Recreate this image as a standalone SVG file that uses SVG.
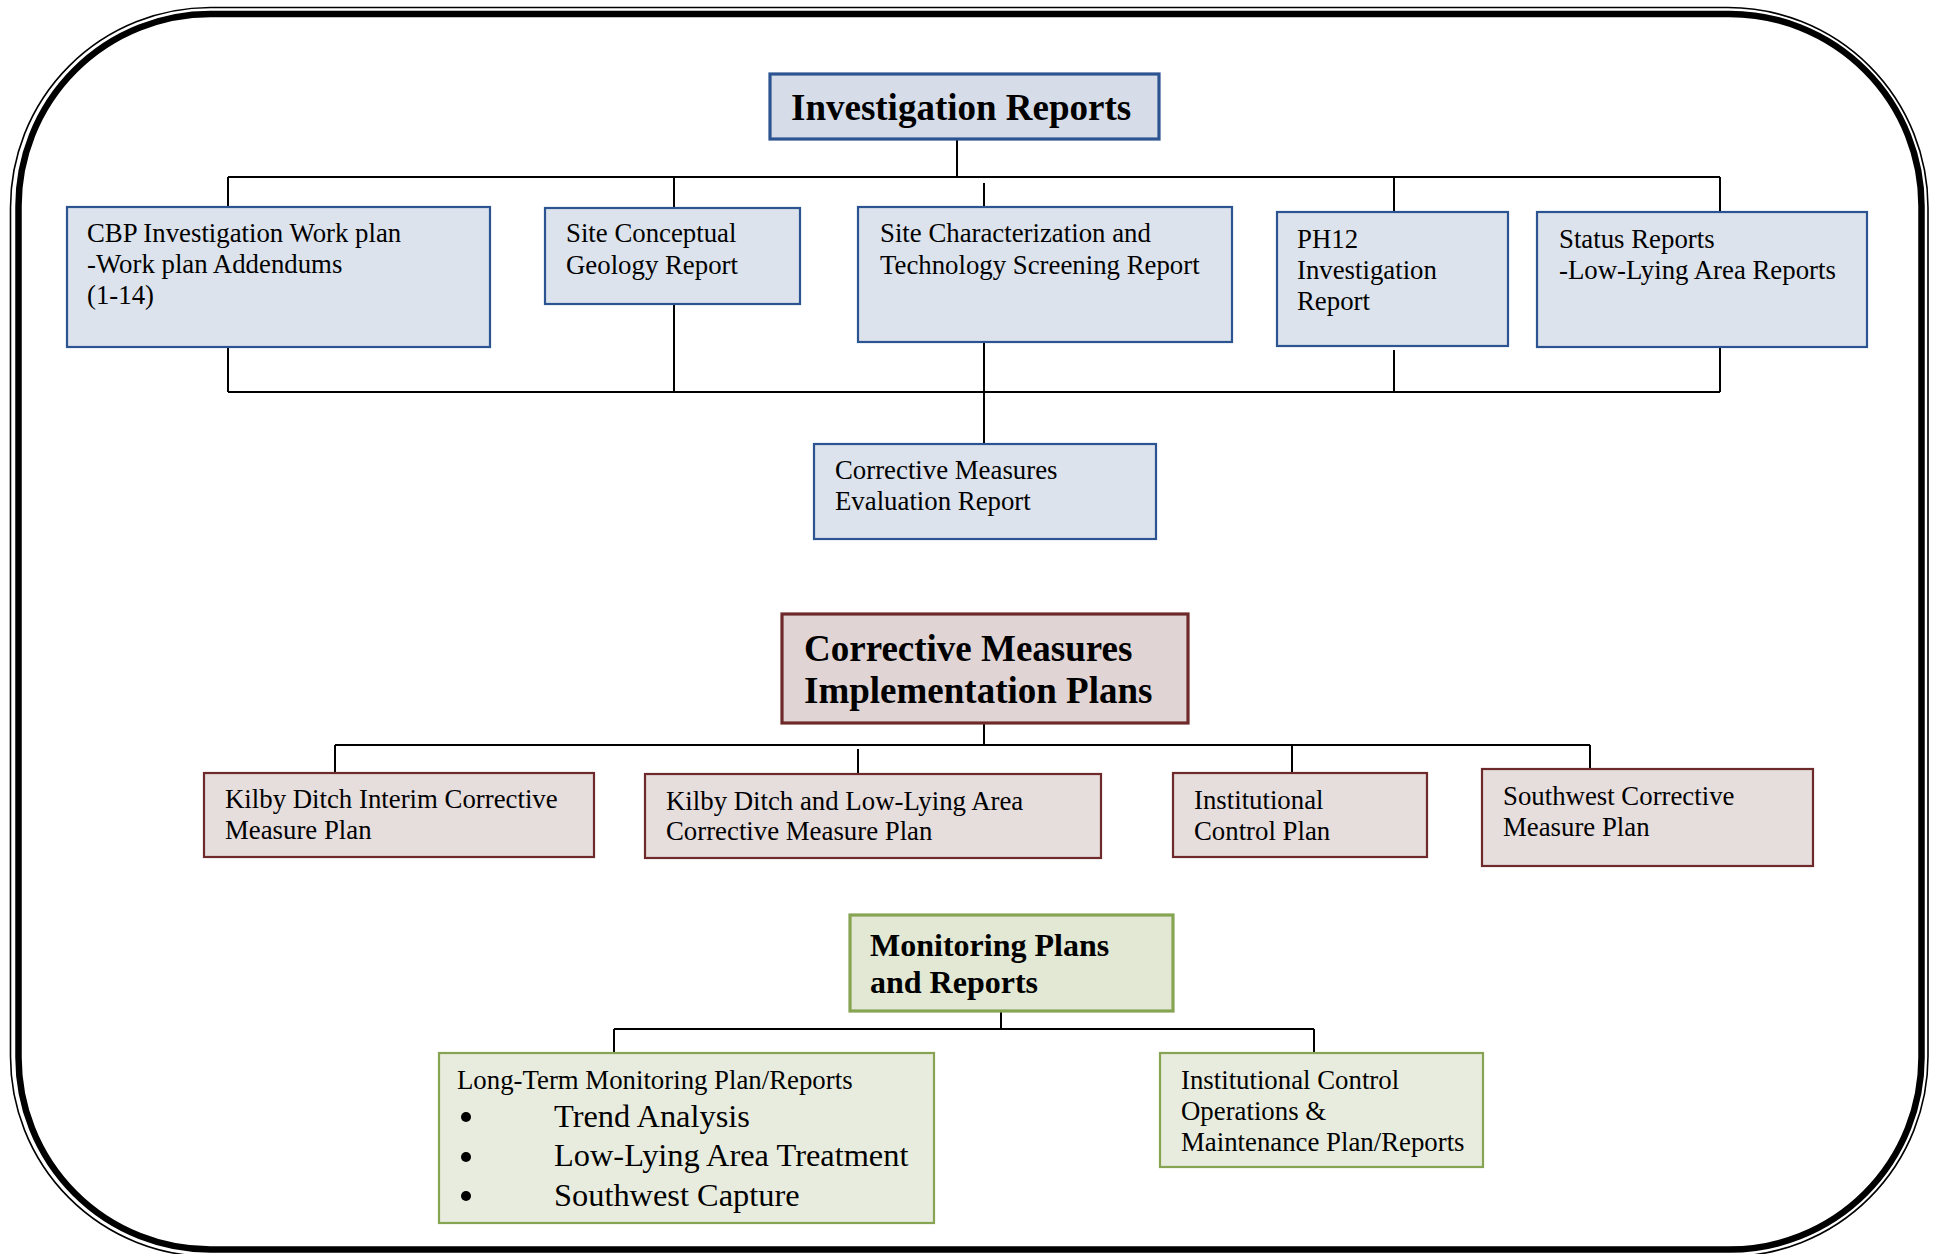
<svg xmlns="http://www.w3.org/2000/svg" width="1938" height="1254" viewBox="0 0 1938 1254">
<style>
text{font-family:"Liberation Serif","Times New Roman",serif;fill:#000}
.t{font-size:26.8px}
.h{font-size:37px;font-weight:bold}
.h2{font-size:32px;font-weight:bold}
.b{font-size:32.4px}
.blue{fill:#dce3ec;stroke:#2c5491;stroke-width:2.2}
.blueT{fill:#d6dde8;stroke:#2c5491;stroke-width:3.2}
.red{fill:#e6dddd;stroke:#6e2a2a;stroke-width:2.2}
.redT{fill:#e0d4d4;stroke:#6e2a2a;stroke-width:3.2}
.green{fill:#e8ecde;stroke:#86a452;stroke-width:2.2}
.greenT{fill:#e2e8d4;stroke:#86a452;stroke-width:3.2}
.c{fill:none;stroke:#000;stroke-width:2}
</style>
<rect x="0" y="0" width="1938" height="1254" fill="#fff"/>
<g id="frame" fill="none" stroke="#000">
<rect x="10.5" y="7.5" width="1917.5" height="1249" rx="200" ry="200" stroke-width="1.6"/>
<rect x="18.5" y="14" width="1903" height="1235.5" rx="192" ry="192" stroke-width="6.5"/>
</g>
<g id="connectors" class="c">
<path d="M957,139 V177 M228,177 H1720 M228,177 V207 M674,177 V208 M984,183 V207 M1394,177 V212 M1720,177 V212"/>
<path d="M228,347 V392 M674,304 V392 M984,342 V444 M1394,350 V392 M1720,347 V392 M228,392 H1720"/>
<path d="M984,723 V745 M335,745 H1590 M335,745 V772 M858,749 V773 M1292,745 V772 M1590,745 V768"/>
<path d="M1001,1011 V1029 M614,1029 H1314 M614,1029 V1053 M1314,1029 V1053"/>
</g>
<g id="investigation-reports">
<rect class="blueT" x="770" y="74" width="389" height="65"/>
<text class="h" x="791" y="120">Investigation Reports</text>
</g>
<g id="cbp-workplan">
<rect class="blue" x="67" y="207" width="423" height="140"/>
<text class="t" x="87" y="242">CBP Investigation Work plan</text>
<text class="t" x="87" y="273">-Work plan Addendums</text>
<text class="t" x="87" y="304">(1-14)</text>
</g>
<g id="site-conceptual">
<rect class="blue" x="545" y="208" width="255" height="96"/>
<text class="t" x="566" y="242">Site Conceptual</text>
<text class="t" x="566" y="274">Geology Report</text>
</g>
<g id="site-characterization">
<rect class="blue" x="858" y="207" width="374" height="135"/>
<text class="t" x="880" y="242">Site Characterization and</text>
<text class="t" x="880" y="274">Technology Screening Report</text>
</g>
<g id="ph12">
<rect class="blue" x="1277" y="212" width="231" height="134"/>
<text class="t" x="1297" y="248">PH12</text>
<text class="t" x="1297" y="279">Investigation</text>
<text class="t" x="1297" y="310">Report</text>
</g>
<g id="status-reports">
<rect class="blue" x="1537" y="212" width="330" height="135"/>
<text class="t" x="1559" y="248">Status Reports</text>
<text class="t" x="1559" y="279">-Low-Lying Area Reports</text>
</g>
<g id="cme-report">
<rect class="blue" x="814" y="444" width="342" height="95"/>
<text class="t" x="835" y="479">Corrective Measures</text>
<text class="t" x="835" y="510">Evaluation Report</text>
</g>
<g id="cmip">
<rect class="redT" x="782" y="614" width="406" height="109"/>
<text class="h" x="804" y="661">Corrective Measures</text>
<text class="h" x="804" y="703">Implementation Plans</text>
</g>
<g id="kilby-interim">
<rect class="red" x="204" y="773" width="390" height="84"/>
<text class="t" x="225" y="808">Kilby Ditch Interim Corrective</text>
<text class="t" x="225" y="839">Measure Plan</text>
</g>
<g id="kilby-lla">
<rect class="red" x="645" y="774" width="456" height="84"/>
<text class="t" x="666" y="810">Kilby Ditch and Low-Lying Area</text>
<text class="t" x="666" y="840">Corrective Measure Plan</text>
</g>
<g id="icp">
<rect class="red" x="1173" y="773" width="254" height="84"/>
<text class="t" x="1194" y="809">Institutional</text>
<text class="t" x="1194" y="840">Control Plan</text>
</g>
<g id="southwest">
<rect class="red" x="1482" y="769" width="331" height="97"/>
<text class="t" x="1503" y="805">Southwest Corrective</text>
<text class="t" x="1503" y="836">Measure Plan</text>
</g>
<g id="monitoring">
<rect class="greenT" x="850" y="915" width="323" height="96"/>
<text class="h2" x="870" y="956">Monitoring Plans</text>
<text class="h2" x="870" y="993">and Reports</text>
</g>
<g id="ltm">
<rect class="green" x="439" y="1053" width="495" height="170"/>
<text class="t" x="457" y="1089">Long-Term Monitoring Plan/Reports</text>
<circle cx="466" cy="1117" r="5"/>
<circle cx="466" cy="1157" r="5"/>
<circle cx="466" cy="1196" r="5"/>
<text class="b" x="554" y="1127">Trend Analysis</text>
<text class="b" x="554" y="1166">Low-Lying Area Treatment</text>
<text class="b" x="554" y="1206">Southwest Capture</text>
</g>
<g id="ic-om">
<rect class="green" x="1160" y="1053" width="323" height="114"/>
<text class="t" x="1181" y="1089">Institutional Control</text>
<text class="t" x="1181" y="1120">Operations &amp;</text>
<text class="t" x="1181" y="1151">Maintenance Plan/Reports</text>
</g>
</svg>
